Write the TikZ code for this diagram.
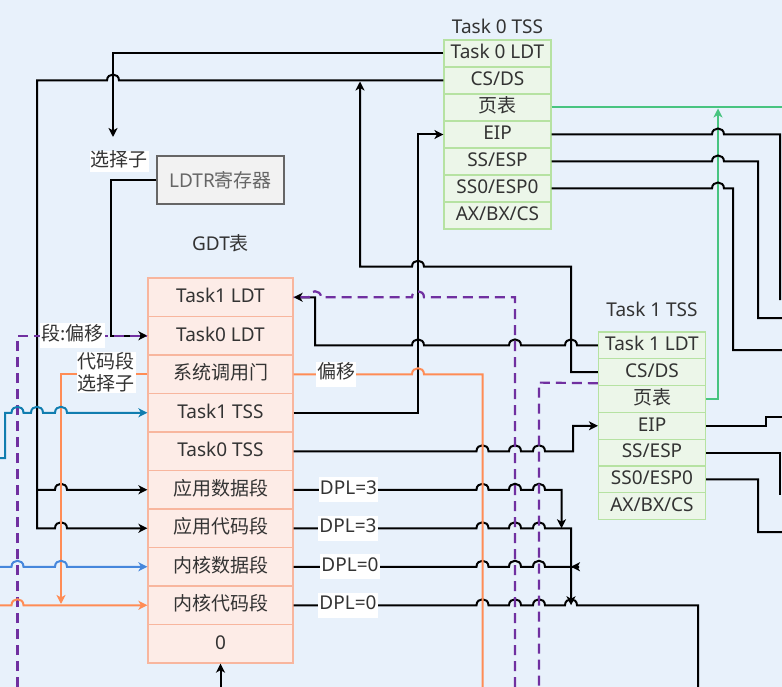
\documentclass[tikz,border=0pt]{standalone}
\usepackage{fontspec}
\setmainfont{Noto Sans}
\newfontfamily\cjk{Noto Sans CJK SC}
\usetikzlibrary{arrows.meta}

\definecolor{bgblue}{RGB}{232,241,251}
\definecolor{txt}{RGB}{51,51,51}
\definecolor{gdtfill}{RGB}{253,236,231}
\definecolor{gdtline}{RGB}{248,182,158}
\definecolor{tssfill}{RGB}{236,246,233}
\definecolor{tssline}{RGB}{182,226,162}
\definecolor{regfill}{RGB}{242,242,242}
\definecolor{regline}{RGB}{102,102,102}
\definecolor{segorange}{RGB}{255,140,85}
\definecolor{segpurple}{RGB}{112,48,160}
\definecolor{pagegreen}{RGB}{72,196,128}
\definecolor{kdblue}{RGB}{70,135,220}
\definecolor{tssteal}{RGB}{16,125,175}

% small hop where a horizontal line passes a vertical one
\newcommand{\jmpr}[2]{-- ({#1-6},#2) .. controls ({#1-6},{#2-8}) and ({#1+6},{#2-8}) .. ({#1+6},#2)}
\newcommand{\jmpl}[2]{-- ({#1+6},#2) .. controls ({#1+6},{#2-8}) and ({#1-6},{#2-8}) .. ({#1-6},#2)}

\begin{document}
\begin{tikzpicture}[x=1pt, y=-1pt,
    every node/.style={font=\fontsize{19}{22}\selectfont, text=txt},
    gdtrow/.style={draw=gdtline, fill=gdtfill, line width=1.2, minimum width=145, minimum height=38.5, inner sep=0, text height=13.6, text depth=3},
    tssrow/.style={draw=tssline, fill=tssfill, line width=1.2, minimum width=107, minimum height=26.9, inner sep=0, text height=13.6, text depth=3},
    conn/.style={line width=2, black},
    tip/.style={-{Stealth[length=9pt, width=9pt, inset=2.5pt]}},
    dashline/.style={line width=2.2, segpurple, dash pattern=on 10pt off 6pt},
    orangeline/.style={line width=2, segorange},
    greenline/.style={line width=2, pagegreen},
    blueline/.style={line width=2, kdblue},
    tealline/.style={line width=2, tssteal},
    lbl/.style={fill=white, inner xsep=1, inner ysep=3, text height=14, text depth=5}]

    \fill[bgblue] (0,0) rectangle (782,687);
    \useasboundingbox (0,0) rectangle (782,687);

    % GDT
    \node (gdttitle) at (220.5,243) {GDT{\cjk 表}};
    \foreach \t [count=\i] in {Task1 LDT, Task0 LDT, \cjk 系统调用门, Task1 TSS, Task0 TSS, \cjk 应用数据段, \cjk 应用代码段, \cjk 内核数据段, \cjk 内核代码段, 0}
        \node[gdtrow] (gdt-\i) at (220.5,{278+38.5*(\i-0.5)}) {\t};

    % Task 0 TSS
    \node (tssatitle) at (497.5,26) {Task 0 TSS};
    \foreach \t [count=\i] in {Task 0 LDT, CS/DS, \cjk 页表, EIP, SS/ESP, SS0/ESP0, AX/BX/CS}
        \node[tssrow] (tssa-\i) at (497.5,{40+27*(\i-0.5)}) {\t};

    % Task 1 TSS
    \node (tssbtitle) at (652,309) {Task 1 TSS};
    \foreach \t [count=\i] in {Task 1 LDT, CS/DS, \cjk 页表, EIP, SS/ESP, SS0/ESP0, AX/BX/CS}
        \node[tssrow] (tssb-\i) at (652,{332+26.8*(\i-0.5)}) {\t};

    % LDTR
    \node[draw=regline, fill=regfill, line width=1.5, minimum width=127, minimum height=48, text=regline] (ldtr) at (220.5,180) {LDTR{\cjk 寄存器}};

    % LDT selectors
    \draw[conn, tip] (tssa-1.west) -- (113,53.5) -- (113,137);
    \draw[conn, tip] (tssa-2.west) \jmpl{113}{80.5} -- (37,80.5) -- (37,528.25) \jmpr{61}{528.25} -- (gdt-7.west);
    \draw[conn, tip] (37,489.75) \jmpr{61}{489.75} -- (gdt-6.west);
    \draw[conn, tip] (tssb-2.west) -- (571,372.2) -- (571,266.7) \jmpl{418}{266.7} -- (360,266.7) -- (360,81.5);
    \draw[conn, tip] (tssb-1.west) \jmpl{571}{345.4} \jmpl{515}{345.4} \jmpl{418}{345.4} -- (315,345.4) -- (315,297.25) -- (gdt-1.east);
    \draw[conn, tip] (ldtr.west) -- (111,180) -- (111,335.75) -- (gdt-2.west);

    % TSS descriptors
    \draw[conn, tip] (gdt-4.east) -- (418,412.75) -- (418,134.5) -- (tssa-4.west);
    \draw[conn, tip] (gdt-5.east) \jmpr{482.5}{451.25} \jmpr{515}{451.25} \jmpr{539}{451.25} -- (573,451.25) -- (573,425.8) -- (tssb-4.west);

    % DPL
    \draw[conn, tip] (gdt-6.east) \jmpr{482.5}{489.75} \jmpr{515}{489.75} \jmpr{539}{489.75} -- (561.5,489.75) -- (561.5,528.25);
    \draw[conn, tip] (gdt-7.east) \jmpr{482.5}{528.25} \jmpr{515}{528.25} \jmpr{539}{528.25} -- (571,528.25) -- (571,605.25);
    \draw[conn] (gdt-8.east) \jmpr{482.5}{566.75} \jmpr{515}{566.75} \jmpr{539}{566.75} -- (579,566.75);
    \draw[conn, tip] (579,566.75) -- (571,566.75);
    \draw[conn] (gdt-9.east) \jmpr{482.5}{605.25} \jmpr{515}{605.25} \jmpr{539}{605.25} \jmpr{571}{605.25} -- (698,605.25) -- (698,687);
    \draw[conn, tip] (220.5,687) -- (gdt-10.south);

    % page tables
    \draw[greenline] (tssa-3.east) -- (782,107.5);
    \draw[greenline, tip] (tssb-3.east) -- (718,399) -- (718,108.5);

    % registers out to the right
    \draw[conn] (tssa-4.east) \jmpr{718}{134.5} -- (780,134.5) -- (780,300);
    \draw[conn] (tssa-5.east) \jmpr{718}{161.5} -- (758,161.5) -- (758,318) -- (782,318);
    \draw[conn] (tssa-6.east) \jmpr{718}{188.5} -- (733,188.5) -- (733,350) -- (782,350);
    \draw[conn] (tssb-4.east) -- (765.5,425.8) -- (765.5,416.7) -- (782,416.7);
    \draw[conn] (tssb-5.east) -- (780,452.6) -- (780,495);
    \draw[conn] (tssb-6.east) -- (758,479.4) -- (758,532) -- (782,532);

    % segment:offset
    \draw[dashline] (515,687) -- (515,297.25) \jmpl{418}{297.25} \jmpl{315}{297.25} -- (gdt-1.east);
    \draw[dashline] ([yshift=3]tssb-2.south west) -- (539,382.6) -- (539,687);
    \draw[dashline] (17.5,687) -- (17.5,335.75) -- (gdt-2.west);

    % call gate
    \draw[orangeline, tip] (gdt-3.west) -- (61,374.25) -- (61,604);
    \draw[orangeline, tip] (0,605.25) \jmpr{17.5}{605.25} -- (gdt-9.west);
    \draw[orangeline] (gdt-3.east) \jmpr{418}{374.25} -- (482.5,374.25) -- (482.5,687);
    \draw[blueline, tip] (0,566.75) \jmpr{17.5}{566.75} \jmpr{61}{566.75} -- (gdt-8.west);
    \draw[tealline, tip] (0,458) -- (5,458) -- (5,412.75) \jmpr{17.5}{412.75} \jmpr{37}{412.75} \jmpr{61}{412.75} -- (gdt-4.west);

    % labels
    \node[lbl, inner ysep=1] (sel) at (119,162) {\cjk 选择子};
    \node[lbl] (segoff) at (72.5,335.5) {\cjk 段:偏移};
    \node[fill=white, inner sep=1, align=center, font=\fontsize{19}{21.6}\selectfont] (cssel) at (106,372.5) {\cjk 代码段\\\cjk 选择子};
    \node[lbl] (gateoff) at (336,374.25) {\cjk 偏移};
    \node[lbl] (dpl6) at (348.5,489.75) {DPL=3};
    \node[lbl] (dpl7) at (348,528.25) {DPL=3};
    \node[lbl] (dpl8) at (350,566.75) {DPL=0};
    \node[lbl] (dpl9) at (348,605.25) {DPL=0};
\end{tikzpicture}
\end{document}
